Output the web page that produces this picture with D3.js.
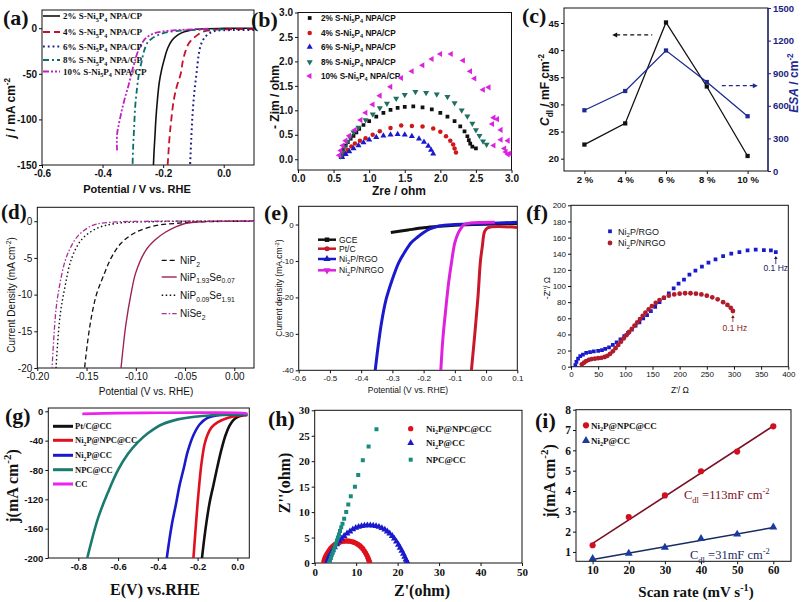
<!DOCTYPE html>
<html><head><meta charset="utf-8">
<script src="https://cdn.jsdelivr.net/npm/d3@7"></script>
<style>body{margin:0;background:#fff}svg{display:block}</style>
</head><body>
<script>
// ================= DATA =================
// (a) polarization curves
const aLabels = ["2% S-Ni_{5}P_{4} NPA/CP","4% S-Ni_{5}P_{4} NPA/CP","6% S-Ni_{5}P_{4} NPA/CP","8% S-Ni_{5}P_{4} NPA/CP","10% S-Ni_{5}P_{4} NPA/CP"];
const aXTicks = [-0.6,-0.4,-0.2,0.0], aYTicks = [0,-50,-100,-150];
const a2 = [[0.1,0],[0.0,-0.2],[-0.06,-0.5],[-0.09,-1.2],[-0.11,-2.2],[-0.13,-3.8],[-0.15,-7],[-0.17,-13],[-0.185,-22],[-0.197,-35],[-0.206,-47],[-0.213,-60],[-0.219,-79],[-0.224,-100],[-0.227,-118],[-0.23,-135],[-0.232,-150]];
const a4 = [[0.1,-1],[0.0,-1.2],[-0.03,-1.6],[-0.05,-2.5],[-0.07,-4],[-0.085,-7],[-0.1,-11],[-0.114,-16],[-0.125,-24],[-0.135,-36],[-0.142,-50],[-0.155,-64],[-0.165,-79],[-0.173,-100],[-0.179,-120],[-0.185,-150]];
const a6 = [[0.1,-2],[0.0,-2.2],[-0.03,-3],[-0.045,-5],[-0.06,-9],[-0.07,-14],[-0.077,-20],[-0.083,-30],[-0.09,-50],[-0.097,-70],[-0.103,-95],[-0.107,-120],[-0.111,-150]];
const a8 = [[0.0,-1.3],[-0.1,-1.8],[-0.15,-2.8],[-0.19,-4.5],[-0.22,-8],[-0.24,-12],[-0.252,-16],[-0.263,-25],[-0.272,-38],[-0.28,-50],[-0.286,-65],[-0.292,-85],[-0.296,-110],[-0.299,-130],[-0.301,-150]];
const a10 = [[-0.05,-0.5],[-0.09,-1],[-0.15,-2],[-0.2,-3.5],[-0.23,-5.5],[-0.25,-9],[-0.263,-13],[-0.276,-20],[-0.286,-28],[-0.295,-38],[-0.302,-46],[-0.313,-61],[-0.325,-75],[-0.335,-88],[-0.341,-97],[-0.348,-108],[-0.352,-116],[-0.353,-126],[-0.352,-134]];

// (b) Nyquist plots
const bLabels = aLabels;
const bTicks = [0,0.5,1.0,1.5,2.0,2.5,3.0];
const b2 = [[0.6,0.05],[0.62,0.12],[0.64,0.2],[0.67,0.28],[0.7,0.35],[0.74,0.42],[0.78,0.48],[0.82,0.55],[0.86,0.62],[0.92,0.7],[1.0,0.78],[1.1,0.87],[1.2,0.95],[1.3,1.01],[1.4,1.05],[1.5,1.07],[1.62,1.08],[1.75,1.06],[1.88,1.02],[2.0,0.95],[2.1,0.87],[2.2,0.78],[2.28,0.67],[2.34,0.57],[2.38,0.47],[2.4,0.39],[2.42,0.32],[2.45,0.26],[2.5,0.22]];
const b4 = [[0.62,0.05],[0.66,0.12],[0.7,0.19],[0.75,0.26],[0.8,0.32],[0.87,0.38],[0.95,0.43],[1.05,0.5],[1.15,0.57],[1.3,0.64],[1.45,0.69],[1.6,0.68],[1.75,0.67],[1.9,0.63],[2.0,0.56],[2.08,0.47],[2.14,0.38],[2.18,0.3],[2.2,0.22],[2.22,0.14]];
const b6 = [[0.62,0.04],[0.67,0.1],[0.72,0.16],[0.78,0.22],[0.85,0.28],[0.92,0.34],[1.0,0.4],[1.1,0.45],[1.2,0.48],[1.3,0.5],[1.4,0.51],[1.5,0.5],[1.6,0.47],[1.7,0.42],[1.77,0.35],[1.83,0.27],[1.87,0.19],[1.9,0.11]];
const b8 = [[0.6,0.06],[0.62,0.15],[0.65,0.25],[0.69,0.35],[0.73,0.45],[0.78,0.55],[0.85,0.65],[0.95,0.8],[1.05,0.92],[1.15,1.05],[1.25,1.14],[1.38,1.24],[1.5,1.32],[1.65,1.38],[1.8,1.36],[1.95,1.33],[2.1,1.28],[2.2,1.15],[2.3,1.0],[2.38,0.88],[2.45,0.73],[2.5,0.6],[2.55,0.48],[2.6,0.37],[2.65,0.3]];
const b10 = [[0.58,0.08],[0.6,0.18],[0.63,0.28],[0.67,0.38],[0.72,0.48],[0.8,0.6],[0.88,0.8],[0.95,0.95],[1.05,1.12],[1.15,1.3],[1.3,1.48],[1.45,1.66],[1.6,1.8],[1.75,1.92],[1.88,2.05],[2.0,2.15],[2.15,2.15],[2.32,2.02],[2.42,1.8],[2.48,1.65],[2.6,1.42],[2.68,1.47],[2.75,0.85],[2.8,0.82],[2.73,0.72],[2.85,0.6],[2.85,0.4],[2.95,0.38],[2.75,0.28],[2.9,0.22],[2.92,0.15],[2.95,0.1],[2.98,0.12]];

// (c) Cdl and ESA vs S content
const cCats = ["2 %","4 %","6 %","8 %","10 %"];
const cCdl = [22.6,26.5,45.1,33.3,20.5];
const cESA = [559,736,1109,819,504];
const cLeftTicks = [20,25,30,35,40,45], cRightTicks = [0,300,600,900,1200,1500];

// (d) polarization curves
const dLabels = ["NiP_{2}","NiP_{1.93}Se_{0.07}","NiP_{0.09}Se_{1.91}","NiSe_{2}"];
const dXTicks = [-0.2,-0.15,-0.1,-0.05,0.0], dYTicks = [0,-5,-10,-15,-20];
const dNiP2 = [[0.02,0],[-0.04,-0.1],[-0.06,-0.3],[-0.08,-0.6],[-0.1,-1.5],[-0.115,-3],[-0.125,-5],[-0.133,-7.5],[-0.14,-10],[-0.145,-13],[-0.149,-16.5],[-0.152,-20]];
const dNiPSe1 = [[0.02,0],[-0.03,-0.05],[-0.05,-0.3],[-0.06,-0.8],[-0.07,-1.5],[-0.08,-2.5],[-0.09,-4],[-0.1,-7],[-0.105,-10],[-0.11,-14],[-0.115,-20]];
const dNiPSe2 = [[0.02,0],[-0.08,-0.05],[-0.12,-0.3],[-0.14,-1],[-0.155,-2.5],[-0.165,-5],[-0.172,-9],[-0.177,-13],[-0.181,-20]];
const dNiSe2 = [[0.02,0],[-0.1,-0.02],[-0.12,-0.1],[-0.14,-0.4],[-0.15,-1],[-0.16,-2.2],[-0.167,-3.8],[-0.172,-5.5],[-0.177,-8.5],[-0.181,-12],[-0.185,-20]];

// (e) polarization curves
const eLabels = ["GCE","Pt/C","Ni_{2}P/RGO","Ni_{2}P/NRGO"];
const eXTicks = [-0.6,-0.5,-0.4,-0.3,-0.2,-0.1,0.0,0.1], eYTicks = [0,-10,-20,-30,-40];
const eGCE = [[-0.305,-2.2],[-0.25,-1.5],[-0.2,-0.9],[-0.15,-0.5],[-0.1,-0.2],[0,0.1],[0.1,0.3]];
const ePtC = [[0.1,-0.8],[0.005,-0.9],[-0.005,-2],[-0.012,-6],[-0.018,-10],[-0.026,-20],[-0.036,-30],[-0.047,-40]];
const eRGO = [[0.1,0.6],[0,0.3],[-0.1,0],[-0.15,-0.4],[-0.18,-1.2],[-0.2,-2.2],[-0.22,-3.5],[-0.24,-5],[-0.26,-7.5],[-0.28,-10.5],[-0.3,-15],[-0.32,-20.5],[-0.335,-27],[-0.345,-33],[-0.355,-40]];
const eNRGO = [[0.028,0.6],[-0.05,0.4],[-0.07,0],[-0.08,-1],[-0.09,-2.5],[-0.1,-5],[-0.11,-10],[-0.12,-16],[-0.13,-24],[-0.138,-31],[-0.145,-40]];

// (f) Nyquist
const fLabels = ["Ni_{2}P/RGO","Ni_{2}P/NRGO"];
const fXTicks = [0,50,100,150,200,250,300,350,400], fYTicks = [0,20,40,60,80,100,120,140,160,180,200];
const fRGO = [[8,2],[10,6],[13,10],[17,13],[22,15],[28,17],[35,18],[42,19],[50,19.5],[57,20.5],[63,22],[70,24],[77,27],[84,30],[91,34],[98,38],[105,42],[112,46],[119,51],[126,55],[133,60],[140,64],[147,69],[155,74],[163,80],[171,85],[180,91],[189,97],[198,103],[208,108],[218,114],[229,119],[241,124],[253,129],[266,133],[280,137],[295,140],[310,142],[325,144],[340,145],[355,144.5],[368,144],[377,142]];
const fNRGO = [[20,3],[24,5],[28,7],[33,8.5],[38,9.5],[44,10],[50,10.5],[56,11],[62,12],[67,13.5],[72,16],[77,19],[82,23],[87,27],[92,31],[97,35],[102,39],[107,43],[112,47],[117,51],[122,55],[127,59],[132,63],[137,67],[143,71],[149,75],[156,79],[163,82.5],[171,85.5],[180,88],[190,89.5],[200,90.5],[210,91],[220,91],[230,90.5],[240,89.5],[250,88],[260,86],[270,83.5],[280,80],[288,76.5],[294,73],[298,69]];

// (g) polarization curves
const gLabels = ["Pt/C@CC","Ni_{2}P@NPC@CC","Ni_{2}P@CC","NPC@CC","CC"];
const gXTicks = [-0.8,-0.6,-0.4,-0.2,0.0], gYTicks = [0,-40,-80,-120,-160,-200];
const gPtC = [[0.05,-5],[0.02,-6],[0,-8],[-0.02,-12],[-0.04,-20],[-0.06,-33],[-0.08,-52],[-0.1,-75],[-0.12,-100],[-0.14,-125],[-0.16,-160],[-0.178,-200]];
const gNiPNPC = [[0.05,-5],[0,-6],[-0.05,-9],[-0.1,-15],[-0.13,-22],[-0.15,-32],[-0.165,-45],[-0.18,-70],[-0.19,-95],[-0.2,-125],[-0.21,-160],[-0.221,-200]];
const gNiP = [[0.05,-4],[0,-4.5],[-0.08,-5],[-0.15,-9],[-0.19,-18],[-0.22,-32],[-0.25,-55],[-0.27,-78],[-0.29,-100],[-0.31,-128],[-0.33,-155],[-0.355,-200]];
const gNPC = [[0.05,-4],[-0.1,-5],[-0.2,-7],[-0.3,-11],[-0.38,-18],[-0.45,-30],[-0.5,-42],[-0.55,-58],[-0.6,-80],[-0.65,-110],[-0.7,-145],[-0.755,-200]];
const gCC = [[-0.78,-3.5],[-0.6,-2.5],[-0.4,-2],[-0.2,-1.8],[0,-2],[0.05,-3]];

// (h) Nyquist
const hLabels = ["Ni_{2}P@NPC@CC","Ni_{2}P@CC","NPC@CC"];
const hXTicks = [0,10,20,30,40,50], hYTicks = [0,5,10,15,20,25,30];
const hNiPNPC = [[2.2,0.1],[2.3,0.5],[2.45,0.9],[2.65,1.3],[2.9,1.7],[3.2,2.1],[3.5,2.5],[3.85,2.85],[4.2,3.15],[4.6,3.45],[5.0,3.7],[5.45,3.9],[5.9,4.05],[6.4,4.2],[6.9,4.28],[7.4,4.32],[7.9,4.32],[8.4,4.28],[8.9,4.2],[9.4,4.08],[9.9,3.92],[10.35,3.7],[10.8,3.45],[11.2,3.15],[11.6,2.8],[11.95,2.4],[12.25,2.0],[12.55,1.55],[12.8,1.1],[13.0,0.7],[13.15,0.3],[13.25,0.05]];
const hNiP = [[3.0,0.1],[3.2,0.7],[3.5,1.3],[3.9,1.9],[4.3,2.5],[4.8,3.1],[5.3,3.7],[5.9,4.3],[6.5,4.8],[7.1,5.3],[7.8,5.8],[8.5,6.2],[9.2,6.6],[9.9,6.9],[10.6,7.1],[11.3,7.25],[12.0,7.35],[12.7,7.4],[13.4,7.4],[14.1,7.35],[14.8,7.25],[15.5,7.1],[16.2,6.85],[16.9,6.55],[17.5,6.2],[18.1,5.8],[18.7,5.3],[19.2,4.8],[19.7,4.2],[20.2,3.6],[20.6,3.0],[21.0,2.4],[21.4,1.8],[21.7,1.2],[22.0,0.7],[22.2,0.3],[22.4,0.05]];
const hNPC = [[3.5,0.1],[3.7,0.5],[3.9,1.0],[4.1,1.5],[4.35,2.0],[4.6,2.6],[4.85,3.2],[5.1,3.8],[5.35,4.4],[5.6,5.0],[5.85,5.6],[6.1,6.3],[6.4,7.0],[6.7,7.7],[7.1,8.7],[7.6,10.0],[8.1,11.5],[8.7,13.1],[9.7,15.0],[10.5,17.3],[11.6,20.2],[13.0,22.9],[14.9,26.3]];

// (i) double-layer capacitance
const iLabels = ["Ni_{2}P@NPC@CC","Ni_{2}P@CC"];
const iScan = [10,20,30,40,50,60];
const iNiPNPC = [1.33,2.72,3.78,4.97,5.94,7.18];
const iNiP = [0.67,0.93,1.22,1.65,1.87,2.22];
const iFitNiPNPC = [[10,1.42],[60,7.2]];
const iFitNiP = [[10,0.63],[60,2.2]];
const iYTicks = [1,2,3,4,5,6,7,8];

// ================= HELPERS =================
const SANS = "Arial, 'Liberation Sans', sans-serif";
const SERIF = "'Times New Roman', 'Liberation Serif', serif";
const svg = d3.select("body").append("svg").attr("width",805).attr("height",602);
svg.append("rect").attr("width",805).attr("height",602).attr("fill","#fff");
const fmt = p => d => d3.format(p)(d).replace("\u2212","-");

function rich(t, str, fs){
  const re = /([_^~])\{([^}]*)\}|([^_^~]+)/g; let m, cur = 0;
  while ((m = re.exec(str))){
    const type = m[1] || "", s = m[1] ? m[2] : m[3];
    const ts = t.append("tspan").text(s);
    const target = type === "_" ? fs*0.28 : type === "^" ? -fs*0.4 : 0;
    if (target !== cur){ ts.attr("dy", target - cur); cur = target; }
    if (type === "_" || type === "^") ts.attr("font-size", fs*0.68);
    if (type === "~") ts.attr("font-style","italic");
  }
}
function txt(x, y, str, o){
  const t = svg.append("text").attr("x",x).attr("y",y)
    .attr("font-family",o.ff).attr("font-size",o.fs).attr("font-weight",o.fw||"normal")
    .attr("fill",o.fill||"#111").attr("text-anchor",o.anchor||"start");
  if (o.rot) t.attr("transform",`rotate(${o.rot},${x},${y})`);
  rich(t, str, o.fs); return t;
}
function ylab(cx, cy, str, o){ return txt(cx + o.fs*0.35, cy, str, Object.assign({anchor:"middle", rot:-90}, o)); }

let clipN = 0;
function panel(o){
  const x = (o.x || d3.scaleLinear().domain(o.xd)).range([o.L,o.R]);
  const y = d3.scaleLinear().domain(o.yd).range([o.B,o.T]);
  const g = svg.append("g");
  const id = "clip" + (clipN++);
  g.append("clipPath").attr("id",id).append("rect").attr("x",o.L).attr("y",o.T).attr("width",o.R-o.L).attr("height",o.B-o.T);
  let xa = d3.axisBottom(x).tickSize(3).tickPadding(2);
  if (o.xt) xa = xa.tickValues(o.xt); if (o.xf) xa = xa.tickFormat(o.xf);
  const ax = g.append("g").attr("transform",`translate(0,${o.B})`).call(xa);
  const ay = g.append("g").attr("transform",`translate(${o.L},0)`).call(d3.axisLeft(y).tickValues(o.yt).tickFormat(o.yf).tickSize(3).tickPadding(2));
  [ax, ay].forEach(a => {
    a.select(".domain").remove();
    a.selectAll("text").attr("font-family",o.ff).attr("font-size",o.fs).attr("font-weight",o.fw||"normal").attr("fill","#111");
    a.selectAll("line").attr("stroke","#111");
  });
  g.append("rect").attr("x",o.L).attr("y",o.T).attr("width",o.R-o.L).attr("height",o.B-o.T)
    .attr("fill","none").attr("stroke","#111").attr("stroke-width",1);
  const plot = g.append("g").attr("clip-path",`url(#${id})`);
  return {x, y, g, plot};
}
function drawLine(p, data, st, curve){
  const line = d3.line().x(d => p.x(d[0])).y(d => p.y(d[1])).curve(curve || d3.curveCatmullRom);
  p.plot.append("path").datum(data).attr("d",line).attr("fill","none")
    .attr("stroke",st.c).attr("stroke-width",st.w||1.5).attr("stroke-dasharray",st.dash||null).attr("stroke-linejoin","round");
}
function sym(type, size){ return d3.symbol().type(type).size(size)(); }
function drawPts(p, data, st){
  p.plot.selectAll(null).data(data).enter().append("path")
    .attr("d", sym(st.type, st.size))
    .attr("transform", d => `translate(${p.x(d[0])},${p.y(d[1])}) rotate(${st.rot||0})`)
    .attr("fill", st.c);
}
function marker(cx, cy, st){
  svg.append("path").attr("d", sym(st.type, st.size)).attr("transform",`translate(${cx},${cy}) rotate(${st.rot||0})`).attr("fill",st.c);
}
function legLine(x1, x2, cy, st){
  svg.append("line").attr("x1",x1).attr("x2",x2).attr("y1",cy).attr("y2",cy)
    .attr("stroke",st.c).attr("stroke-width",st.w||1.5).attr("stroke-dasharray",st.dash||null);
}
function panelLabel(x, y, s, fs){ txt(x, y, s, {ff:SERIF, fs:fs||22, fw:"bold"}); }

// ================= PANEL (a) =================
{
  const p = panel({L:42,R:254,T:10,B:165,xd:[-0.6,0.1],yd:[-150,20],xt:aXTicks,yt:aYTicks,xf:fmt(".1f"),yf:fmt("d"),ff:SANS,fs:10,fw:"bold"});
  const st = [{c:"#111",w:1.6},{c:"#c8102e",dash:"7,4",w:1.8},{c:"#1c1c8a",dash:"1.8,3",w:2},{c:"#0b6e6a",dash:"6,3,2,3",w:1.8},{c:"#c21fc2",dash:"6,2,2,2,2,2",w:1.8}];
  [a2,a4,a6,a8,a10].forEach((d,i) => drawLine(p, d, st[i]));
  const rows = [16,32,46.5,60,71.5];
  aLabels.forEach((l,i) => { legLine(43,60,rows[i],st[i]); txt(63, rows[i]+3, l, {ff:SERIF, fs:9, fw:"bold"}); });
  txt(137, 193, "Potential / V vs. RHE", {ff:SANS, fs:11, fw:"bold", anchor:"middle"});
  ylab(11, 108, "~{j} / mA cm^{-2}", {ff:SANS, fs:12, fw:"bold"});
  panelLabel(3, 25, "(a)");
}
// ================= PANEL (b) =================
{
  const p = panel({L:298,R:511.5,T:12.5,B:170,xd:[0,3],yd:[-0.22,3.0],xt:bTicks,yt:bTicks,xf:fmt(".1f"),yf:fmt(".1f"),ff:SANS,fs:10,fw:"bold"});
  const st = [{type:d3.symbolSquare,size:14,c:"#111"},{type:d3.symbolCircle,size:16,c:"#d01818"},{type:d3.symbolTriangle,size:16,c:"#1a1acc"},{type:d3.symbolTriangle,size:16,c:"#1f6f62",rot:180},{type:d3.symbolTriangle,size:16,c:"#dd22dd",rot:-90}];
  [b2,b4,b6,b8,b10].forEach((d,i) => drawPts(p, d, st[i]));
  const rows = [18,33,47,62,76];
  bLabels.forEach((l,i) => { marker(309.7, rows[i], st[i]); txt(321, rows[i]+3, l, {ff:SANS, fs:8.2, fw:"bold"}); });
  txt(399, 195, "Zre / ohm", {ff:SANS, fs:12, fw:"bold", anchor:"middle"});
  ylab(275, 97, "- Zim / ohm", {ff:SANS, fs:12, fw:"bold"});
  panelLabel(251, 27, "(b)");
}
// ================= PANEL (c) =================
{
  const L=564,R=768,T=8,B=171;
  const xs = d3.scalePoint().domain(cCats).padding(0.5);
  const p = panel({L,R,T,B,x:xs,yd:[17.73,47.76],yt:cLeftTicks,yf:fmt("d"),ff:SANS,fs:9.5,fw:"bold"});
  const yR = d3.scaleLinear().domain([0,1500]).range([B,T]);
  const ar = p.g.append("g").attr("transform",`translate(${R},0)`).call(d3.axisRight(yR).tickValues(cRightTicks).tickFormat(fmt("d")).tickSize(3).tickPadding(2));
  ar.select(".domain").remove();
  ar.selectAll("text").attr("font-family",SANS).attr("font-size",9.5).attr("font-weight","bold").attr("fill","#1a237e");
  ar.selectAll("line").attr("stroke","#1a237e");
  p.g.append("line").attr("x1",R).attr("x2",R).attr("y1",T).attr("y2",B).attr("stroke","#1a237e").attr("stroke-width",1.2);
  const lineL = d3.line().x((d,i)=>xs(cCats[i])).y(d=>p.y(d));
  const lineR = d3.line().x((d,i)=>xs(cCats[i])).y(d=>yR(d));
  p.plot.append("path").datum(cCdl).attr("d",lineL).attr("fill","none").attr("stroke","#111").attr("stroke-width",1.3);
  p.plot.append("path").datum(cESA).attr("d",lineR).attr("fill","none").attr("stroke","#1f2a8f").attr("stroke-width",1.3);
  cCdl.forEach((v,i)=>marker(xs(cCats[i]), p.y(v), {type:d3.symbolSquare,size:18,c:"#111"}));
  cESA.forEach((v,i)=>marker(xs(cCats[i]), yR(v), {type:d3.symbolSquare,size:18,c:"#1f2a8f"}));
  const ay1 = p.y(42.8), ay2 = yR(785);
  const x4 = xs("4 %"), x8 = xs("8 %");
  svg.append("line").attr("x1",x4-9).attr("x2",x4+27).attr("y1",ay1).attr("y2",ay1).attr("stroke","#111").attr("stroke-width",1.2).attr("stroke-dasharray","4,3");
  svg.append("path").attr("d",`M${x4-13},${ay1} l5,-2.5 l0,5 z`).attr("fill","#111");
  svg.append("line").attr("x1",x8+15).attr("x2",x8+47).attr("y1",ay2).attr("y2",ay2).attr("stroke","#1f2a8f").attr("stroke-width",1.2).attr("stroke-dasharray","4,3");
  svg.append("path").attr("d",`M${x8+51},${ay2} l-5,-2.5 l0,5 z`).attr("fill","#1f2a8f");
  ylab(545, 90, "~{C}_{dl} / mF cm^{-2}", {ff:SANS, fs:12, fw:"bold"});
  ylab(794, 83, "~{ESA} / cm^{-2}", {ff:SANS, fs:12, fw:"bold", fill:"#1f2a8f"});
  panelLabel(522, 23, "(c)");
}
// ================= PANEL (d) =================
{
  const p = panel({L:37.3,R:254,T:207.3,B:368,xd:[-0.2,0.02],yd:[-20,1.9],xt:dXTicks,yt:dYTicks,xf:fmt(".2f"),yf:fmt("d"),ff:SANS,fs:10});
  const st = [{c:"#111",dash:"5,3",w:1.3},{c:"#9b2257",w:1.4},{c:"#111",dash:"1.5,2.5",w:1.4},{c:"#a8329a",dash:"5,2,1.5,2",w:1.3}];
  [dNiP2,dNiPSe1,dNiPSe2,dNiSe2].forEach((d,i)=>drawLine(p,d,st[i]));
  const rows = [260.3,277,295.3,313.7];
  dLabels.forEach((l,i)=>{ legLine(161.7,176.7,rows[i],st[i]); txt(180, rows[i]+3.5, l, {ff:SANS, fs:10}); });
  txt(146, 395, "Potential (V vs. RHE)", {ff:SANS, fs:10, anchor:"middle"});
  ylab(11.5, 295, "Current Density (mA cm^{-2})", {ff:SANS, fs:10});
  panelLabel(1, 219, "(d)", 21);
}
// ================= PANEL (e) =================
{
  const p = panel({L:298.7,R:517.3,T:206.3,B:370.3,xd:[-0.6,0.1],yd:[-40,5],xt:eXTicks,yt:eYTicks,xf:fmt(".1f"),yf:fmt("d"),ff:SANS,fs:8});
  const st = [{c:"#111",w:3},{c:"#c8182a",w:3},{c:"#1a1acc",w:3},{c:"#dd22dd",w:3}];
  const mk = [{type:d3.symbolSquare,size:20},{type:d3.symbolCircle,size:20},{type:d3.symbolTriangle,size:22},{type:d3.symbolTriangle,size:22,rot:180}];
  [eGCE,ePtC,eRGO,eNRGO].forEach((d,i)=>drawLine(p,d,st[i]));
  const rows = [239.7,248.7,259,270.3];
  eLabels.forEach((l,i)=>{ legLine(318,336,rows[i],{c:st[i].c,w:2.5}); marker(327,rows[i],Object.assign({c:st[i].c},mk[i])); txt(339, rows[i]+3, l, {ff:SANS, fs:8.5}); });
  txt(408, 393, "Potential (V vs. RHE)", {ff:SANS, fs:8.5, anchor:"middle"});
  ylab(279, 288, "Current density (mA.cm^{-2})", {ff:SANS, fs:8.5});
  panelLabel(264, 220, "(e)");
}
// ================= PANEL (f) =================
{
  const p = panel({L:571,R:788.3,T:205.3,B:366.7,xd:[0,400],yd:[0,200],xt:fXTicks,yt:fYTicks,xf:fmt("d"),yf:fmt("d"),ff:SANS,fs:8});
  const sB = {type:d3.symbolSquare,size:14,c:"#1a1acc"}, sR = {type:d3.symbolCircle,size:18,c:"#b01c2c"};
  drawPts(p, fRGO, sB); drawPts(p, fNRGO, sR);
  marker(610, 231.3, sB); txt(618, 234.5, fLabels[0], {ff:SANS, fs:9});
  marker(610, 243, sR); txt(618, 246.2, fLabels[1], {ff:SANS, fs:9});
  const lb = fRGO[fRGO.length-1], lr = fNRGO[fNRGO.length-1];
  const bx = p.x(lb[0]), by = p.y(lb[1]), rx = p.x(lr[0]), ry = p.y(lr[1]);
  svg.append("line").attr("x1",bx).attr("x2",bx).attr("y1",by+12).attr("y2",by+5).attr("stroke","#1a1a60").attr("stroke-width",0.8);
  svg.append("path").attr("d",`M${bx},${by+4} l-1.8,3 l3.6,0 z`).attr("fill","#1a1a60");
  txt(bx, by+19, "0.1 Hz", {ff:SANS, fs:8.5, fill:"#1a1a60", anchor:"middle"});
  svg.append("line").attr("x1",rx).attr("x2",rx).attr("y1",ry+11).attr("y2",ry+5).attr("stroke","#8a1a1a").attr("stroke-width",0.8);
  svg.append("path").attr("d",`M${rx},${ry+4} l-1.8,3 l3.6,0 z`).attr("fill","#8a1a1a");
  txt(rx+2, ry+20, "0.1 Hz", {ff:SANS, fs:8.5, fill:"#8a1a1a", anchor:"middle"});
  txt(680, 393, "Z'/ \u03A9", {ff:SANS, fs:8.5, anchor:"middle"});
  ylab(547, 288, "-Z''/ \u03A9", {ff:SANS, fs:8.5});
  panelLabel(526, 220, "(f)");
}
// ================= PANEL (g) =================
{
  const p = panel({L:48.3,R:249.3,T:408,B:558,xd:[-0.951,0.06],yd:[-200,4.5],xt:gXTicks,yt:gYTicks,xf:fmt(".1f"),yf:fmt("d"),ff:SANS,fs:9.5,fw:"bold"});
  const st = [{c:"#111",w:2.6},{c:"#e0101e",w:2.6},{c:"#1a1acc",w:2.6},{c:"#1a7a70",w:2.6},{c:"#ee22ee",w:2.6}];
  [gPtC,gNiPNPC,gNiP,gNPC,gCC].forEach((d,i)=>drawLine(p,d,st[i]));
  const rows = [426.3,440.3,455.3,469.7,484];
  gLabels.forEach((l,i)=>{ legLine(53,73,rows[i],{c:st[i].c,w:3}); txt(75, rows[i]+3, l, {ff:SERIF, fs:8.5, fw:"bold"}); });
  txt(155, 595, "E(V) vs.RHE", {ff:SERIF, fs:16, fw:"bold", anchor:"middle"});
  ylab(12, 486, "j(mA cm^{-2})", {ff:SERIF, fs:16, fw:"bold"});
  panelLabel(5, 423, "(g)");
}
// ================= PANEL (h) =================
{
  const p = panel({L:314.7,R:522,T:410.3,B:563,xd:[0,50],yd:[0,30],xt:hXTicks,yt:hYTicks,xf:fmt("d"),yf:fmt("d"),ff:SERIF,fs:11,fw:"bold"});
  const st = [{type:d3.symbolCircle,size:22,c:"#e0101a"},{type:d3.symbolTriangle,size:20,c:"#1a1acc"},{type:d3.symbolSquare,size:16,c:"#1a8a80"}];
  [hNiPNPC,hNiP,hNPC].forEach((d,i)=>drawPts(p,d,st[i]));
  const rows = [428.7,443,459.7];
  hLabels.forEach((l,i)=>{ marker(410.7, rows[i], st[i]); txt(426, rows[i]+3, l, {ff:SERIF, fs:9, fw:"bold"}); });
  txt(422, 596, "Z'(ohm)", {ff:SERIF, fs:16, fw:"bold", anchor:"middle"});
  ylab(284, 483, "Z''(ohm)", {ff:SERIF, fs:16, fw:"bold"});
  panelLabel(268, 426, "(h)");
}
// ================= PANEL (i) =================
{
  const p = panel({L:576,R:791,T:409.7,B:561.3,xd:[5.4,64.9],yd:[0.54,8],xt:iScan,yt:iYTicks,xf:fmt("d"),yf:fmt("d"),ff:SERIF,fs:11.5,fw:"bold"});
  drawLine(p, iFitNiPNPC, {c:"#7a1024",w:1.6}, d3.curveLinear);
  drawLine(p, iFitNiP, {c:"#1a2a60",w:1.6}, d3.curveLinear);
  const sR = {type:d3.symbolCircle,size:30,c:"#d01020"}, sB = {type:d3.symbolTriangle,size:28,c:"#1a3aa0"};
  drawPts(p, iScan.map((s,k)=>[s,iNiPNPC[k]]), sR);
  drawPts(p, iScan.map((s,k)=>[s,iNiP[k]]), sB);
  marker(586, 425.3, sR); txt(591, 428.5, iLabels[0], {ff:SERIF, fs:9, fw:"bold"});
  marker(586, 440.7, sB); txt(591, 443.9, iLabels[1], {ff:SERIF, fs:9, fw:"bold"});
  txt(684, 499, "C_{dl} =113mF cm^{-2}", {ff:SERIF, fs:12.5, fill:"#7a1024"});
  txt(690, 559, "C_{dl} =31mF cm^{-2}", {ff:SERIF, fs:12.5, fill:"#1a2a60"});
  txt(696, 597, "Scan rate (mV s^{-1})", {ff:SERIF, fs:15, fw:"bold", anchor:"middle"});
  ylab(549, 481, "j(mA cm^{-2})", {ff:SERIF, fs:16, fw:"bold"});
  panelLabel(535, 428, "(i)");
}
</script>
</body></html>
